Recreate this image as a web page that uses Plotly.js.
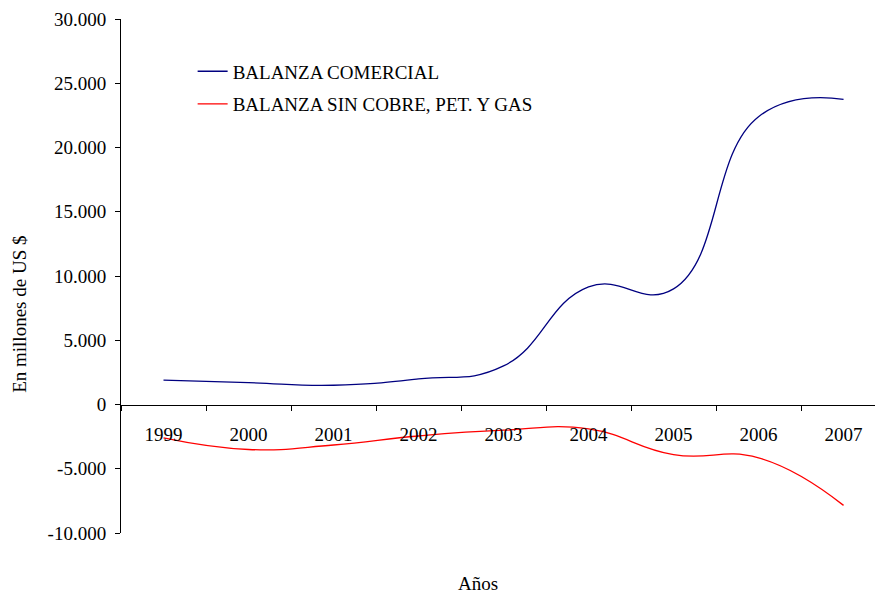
<!DOCTYPE html>
<html>
<head>
<meta charset="utf-8">
<script src="https://cdn.plot.ly/plotly-3.0.1.min.js"></script>
<style>html,body{margin:0;padding:0;background:#fff;}#chart{width:875px;height:599px;}</style>
</head>
<body>
<div id="chart"></div>
<script>
const years = ['1999','2000','2001','2002','2003','2004','2005','2006','2007'];
const balanzaComercial = [1900, 1700, 1500, 2000, 3000, 9150, 9000, 22400, 23750];
const balanzaSinCobre = [-2600, -3500, -3150, -2450, -2000, -1900, -3900, -4150, -7850];
const yTickVals = [-10000, -5000, 0, 5000, 10000, 15000, 20000, 25000, 30000];
const yTickText = ['-10.000', '-5.000', '0', '5.000', '10.000', '15.000', '20.000', '25.000', '30.000'];

const FONT = '"Liberation Serif", "Times New Roman", serif';

const traces = [
  {x: years, y: balanzaComercial, type: 'scatter', mode: 'lines', name: 'BALANZA COMERCIAL', legendgroup: 'a',
   line: {color: '#000080', width: 1.3, shape: 'spline', smoothing: 1.3}},
  {x: years, y: balanzaSinCobre, type: 'scatter', mode: 'lines', name: 'BALANZA SIN COBRE, PET. Y GAS', legendgroup: 'b',
   line: {color: '#FF0000', width: 1.3, shape: 'spline', smoothing: 1.3}}
];

const layout = {
  width: 875, height: 599,
  margin: {l: 121, r: 0, t: 19, b: 66},
  paper_bgcolor: '#fff', plot_bgcolor: '#fff',
  font: {family: FONT, size: 19, color: '#000'},
  showlegend: true,
  legend: {x: 0.095, y: 0.935, xanchor: 'left', yanchor: 'top', bgcolor: 'rgba(0,0,0,0)',
           traceorder: 'grouped', tracegroupgap: 5,
           font: {family: FONT, size: 19, color: '#000'}},
  xaxis: {
    type: 'category', range: [-0.5, 8.37], anchor: 'free', position: 0.25,
    showline: true, linecolor: '#000', linewidth: 1,
    ticks: 'outside', ticklen: 5, tickcolor: '#000', tickson: 'boundaries',
    ticklabelstandoff: 13,
    showgrid: false, zeroline: false,
    tickfont: {family: FONT, size: 19, color: '#000'}
  },
  yaxis: {
    range: [-10000, 30000], tickvals: yTickVals, ticktext: yTickText,
    showline: true, linecolor: '#000', linewidth: 1,
    ticks: 'outside', ticklen: 5, tickcolor: '#000', ticklabelstandoff: 5,
    showgrid: false, zeroline: false,
    tickfont: {family: FONT, size: 19, color: '#000'}
  },
  annotations: [
    {text: 'Años', xref: 'paper', yref: 'paper', x: (478-121)/754, y: -(584-533.3)/514.3,
     xanchor: 'center', yanchor: 'middle', showarrow: false, font: {family: FONT, size: 19, color: '#000'}},
    {text: 'En millones de US $', xref: 'paper', yref: 'paper', x: -(121-20)/754, y: (533.3-315)/514.3,
     xanchor: 'center', yanchor: 'middle', textangle: -90, showarrow: false, font: {family: FONT, size: 19, color: '#000'}}
  ]
};

Plotly.newPlot('chart', traces, layout, {displayModeBar: false, staticPlot: true});
</script>
</body>
</html>
